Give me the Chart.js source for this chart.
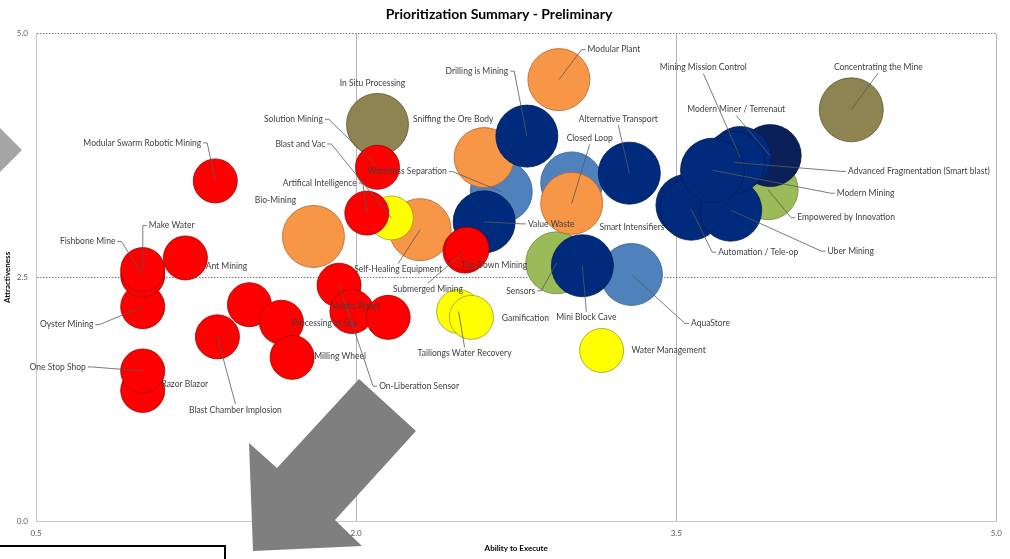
<!DOCTYPE html>
<html><head><meta charset="utf-8">
<script src="https://cdn.jsdelivr.net/npm/chart.js@4.4.1/dist/chart.umd.min.js"></script>
<style>html,body{margin:0;padding:0;background:#fff;}#wrap{position:relative;width:1010px;height:559px;}</style>
</head><body><div id="wrap"><canvas id="c" width="1010" height="559"></canvas></div>
<script>
// ---- data (drawing order: first = bottom) ----
const names = [
 'Waterless Separation','','AquaStore',
 'Sensors','Empowered by Innovation',
 'Bio-Mining','Self-Healing Equipment','Sniffing the Ore Body','Modular Plant','Closed Loop',
 'In Situ Processing','Concentrating the Mine',
 'Modern Miner / Terrenaut','Drilling is Mining','Value Waste','Alternative Transport','Mini Block Cave','Smart Intensifiers','Automation / Tele-op','Uber Mining','Mining Mission Control','Advanced Fragmentation (Smart blast)','Modern Mining',
 'Blast and Vac','Tailiongs Water Recovery','Gamification','Water Management',
 'Modular Swarm Robotic Mining','Oyster Mining','Fishbone Mine','Make Water','Ant Mining','','Processing at Sea','Blast Chamber Implosion','Milling Wheel','Razor Blazor','One Stop Shop','On-Liberation Sensor','Velnfo Plates','','Solution Mining','Artifical Intelligence','Submerged Mining','Top Down Mining'
];
const abilityToExecute = [
 2.68, 3.01, 3.29,
 2.94, 3.93,
 1.80, 2.30, 2.60, 2.95, 3.01,
 2.10, 4.32,
 3.94, 2.80, 2.60, 3.28, 3.06, 3.55, 3.57, 3.755, 3.80, 3.77, 3.67,
 2.165, 2.48, 2.54, 3.15,
 1.34, 1.00, 1.00, 1.00, 1.20, 1.50, 1.65, 1.35, 1.70, 1.00, 1.00, 1.92, 1.98, 2.15, 2.10, 2.05, 2.51, 2.52
];
const attractiveness = [
 3.38, 3.47, 2.53,
 2.65, 3.40,
 2.92, 2.99, 3.73, 4.53, 3.26,
 4.07, 4.22,
 3.75, 3.95, 3.07, 3.57, 2.62, 3.24, 3.20, 3.19, 3.73, 3.68, 3.60,
 3.11, 2.15, 2.09, 1.75,
 3.49, 2.20, 2.52, 2.58, 2.70, 2.22, 2.04, 1.89, 1.68, 1.34, 1.54, 2.42, 2.15, 2.09, 3.63, 3.16, 2.77, 2.79
];
const bubbleSizes = [
 31, 31, 31,
 31, 30,
 31, 31, 30, 31, 31,
 31, 32,
 31, 31, 31, 31, 31, 31, 31, 31, 31, 31, 32,
 22, 22, 22, 22,
 22, 22, 22, 22, 22, 22, 22, 22, 22, 22, 22, 22, 22, 22, 22, 22, 22, 22
];
const groups = [
 'steel','steel','steel',
 'green','green',
 'orange','orange','orange','orange','orange',
 'olive','olive',
 'darknavy','navy','navy','navy','navy','navy','navy','navy','navy','navy','navy',
 'yellow','yellow','yellow','yellow',
 'red','red','red','red','red','red','red','red','red','red','red','red','red','red','red','red','red','red'
];
const xTicks = [0.5, 2.0, 3.5, 5.0];
const yTicks = [0.0, 2.5, 5.0];

// ---- styles / annotation layout ----
const fillColors = {steel:'#4F81BD', green:'#9BBB59', orange:'#F79646', olive:'#8E8452', navy:'#002A7C', darknavy:'#0B2059', yellow:'#FFFF00', red:'#FF0000'};
const edgeColors = {steel:'#3A6395', green:'#71893F', orange:'#B3672E', olive:'#5E5630', navy:'#001A50', darknavy:'#061640', yellow:'#9C9C20', red:'#9A0000'};
// label offset from bubble centre (px) and leader-line side
const labelLayout = [
 [-94,-20,'r'],[0,0,''],[79,49,'l'],
 [-36,28,'r'],[78,28,'l'],
 [-38,-36,''],[-22,40,'t'],[-31,-38,''],[55,-30,'l'],[18,-65,'b'],
 [-5,-41,''],[27,-43,'b'],
 [-34,-46,'b'],[-50,-65,'r'],[67,2,'l'],[-11,-54,'b'],[4,52,'t'],[-55,22,''],[67,43,'l'],[120,41,'l'],[-37,-90,'b'],[185,9,'l'],[153,23,'l'],
 [-91,-74,'r'],[6,42,'t'],[54,1,''],[67,0,''],
 [-73,-38,'r'],[-76,18,'r'],[-55,-34,'r'],[29,-44,'l'],[41,8,''],[0,0,''],[43,1,''],[18,73,'t'],[48,-1,''],[42,-6,''],[-85,-4,'r'],[80,101,'l'],[4,-5,''],[0,0,''],[-84,-48,'r'],[-47,-30,'r'],[-37,38,'t'],[27,16,'']
];

Chart.defaults.font.family = 'Lato';

const labelPlugin = {
  id: 'bubbleLabels',
  afterDatasetsDraw(chart) {
    const ctx = chart.ctx;
    const meta = chart.getDatasetMeta(0);
    ctx.save();
    ctx.font = '8.5px Lato';
    ctx.textBaseline = 'middle';
    ctx.textAlign = 'center';
    meta.data.forEach((el, i) => {
      const text = names[i];
      if (!text) return;
      const [dx, dy, side] = labelLayout[i];
      const lx = el.x + dx, ly = el.y + dy;
      const w = ctx.measureText(text).width;
      if (side) {
        ctx.strokeStyle = '#595959';
        ctx.lineWidth = 0.8;
        ctx.beginPath();
        if (side === 'l') { ctx.moveTo(lx - w/2 - 2, ly); ctx.lineTo(lx - w/2 - 6, ly); }
        else if (side === 'r') { ctx.moveTo(lx + w/2 + 2, ly); ctx.lineTo(lx + w/2 + 6, ly); }
        else if (side === 't') { ctx.moveTo(lx, ly - 6); }
        else { ctx.moveTo(lx, ly + 6); }
        ctx.lineTo(el.x, el.y);
        ctx.stroke();
      }
      ctx.fillStyle = '#404040';
      ctx.fillText(text, lx, ly);
    });
    ctx.restore();
  }
};

const decorPlugin = {
  id: 'decor',
  afterDraw(chart) {
    const ctx = chart.ctx;
    ctx.save();
    // chevron on the left edge
    ctx.fillStyle = '#A6A6A6';
    ctx.beginPath(); ctx.moveTo(0,128); ctx.lineTo(22,150); ctx.lineTo(0,172); ctx.closePath(); ctx.fill();
    // big grey arrow
    ctx.fillStyle = '#7F7F7F';
    ctx.beginPath();
    [[359,379],[416,431],[335,520],[362,546],[253,551],[249,443],[277,468]].forEach((p,k)=> k?ctx.lineTo(p[0],p[1]):ctx.moveTo(p[0],p[1]));
    ctx.closePath(); ctx.fill();
    // white box bottom-left
    ctx.fillStyle = '#FFFFFF';
    ctx.fillRect(-5, 546, 230, 20);
    ctx.strokeStyle = '#000'; ctx.lineWidth = 2;
    ctx.strokeRect(-5, 546, 230, 20);
    ctx.restore();
  }
};

new Chart(document.getElementById('c'), {
  type: 'bubble',
  data: {
    datasets: [{
      data: names.map((n, i) => ({x: abilityToExecute[i], y: attractiveness[i], r: bubbleSizes[i]})),
      backgroundColor: groups.map(g => fillColors[g]),
      borderColor: groups.map(g => edgeColors[g]),
      borderWidth: 0.8,
      clip: false
    }]
  },
  options: {
    responsive: false,
    animation: false,
    events: [],
    layout: {autoPadding: false, padding: {left: 0, right: 12, top: 0, bottom: 0}},
    plugins: {
      legend: {display: false},
      tooltip: {enabled: false},
      title: {display: true, text: 'Prioritization Summary - Preliminary', color: '#000',
        font: {family: 'Lato', size: 14, weight: 'bold'}, padding: {top: 6, bottom: 11}}
    },
    scales: {
      x: {
        type: 'linear', min: 0.5, max: 5.0,
        afterBuildTicks: s => { s.ticks = xTicks.map(v => ({value: v})); },
        afterFit: s => { s.height = 38; },
        grid: {color: '#B5B5B5', lineWidth: 1, drawTicks: false},
        border: {display: true, color: '#C8C8C8'},
        ticks: {padding: 8, color: '#595959', font: {size: 8}, maxRotation: 0, autoSkip: false, callback: v => Number(v).toFixed(1)},
        title: {display: true, text: 'Ability to Execute', color: '#000', font: {size: 8, weight: 'bold'}, padding: {top: 0, bottom: 6}}
      },
      y: {
        type: 'linear', min: 0, max: 5.0,
        afterBuildTicks: s => { s.ticks = yTicks.map(v => ({value: v})); },
        afterFit: s => { s.width = 36; },
        grid: {color: c => (c.tick && c.tick.value === 0) ? 'rgba(0,0,0,0)' : '#7A7A7A', lineWidth: 1, drawTicks: false},
        border: {display: true, color: '#C8C8C8', dash: [1.5, 1.5]},
        ticks: {padding: 8, color: '#595959', font: {size: 8}, callback: v => Number(v).toFixed(1)},
        title: {display: true, text: 'Attractiveness', color: '#000', font: {size: 8, weight: 'bold'}, padding: {top: 3, bottom: 0}}
      }
    }
  },
  plugins: [labelPlugin, decorPlugin]
});
</script>
</body></html>
